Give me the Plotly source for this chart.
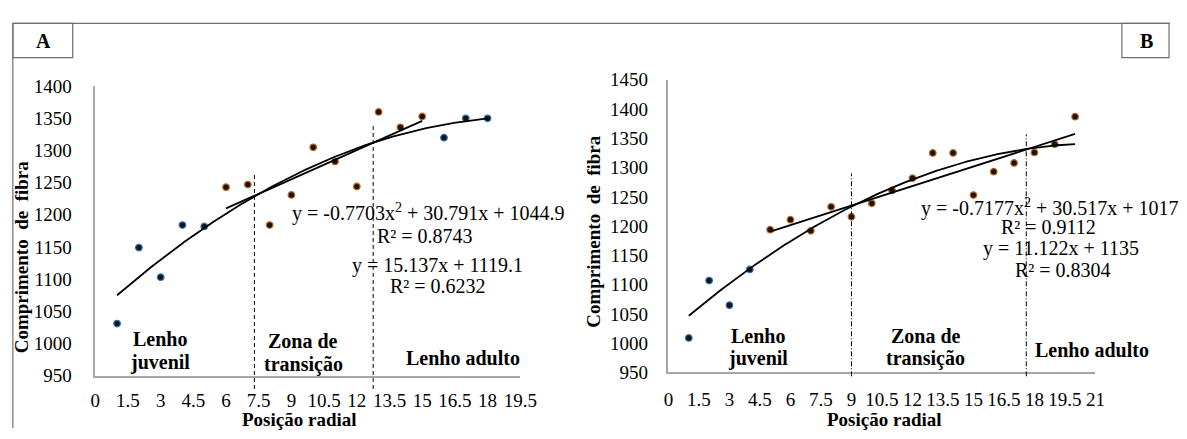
import numpy as np
import plotly.graph_objects as go

W, H = 1187, 439

# ---------------- data ----------------
posicao_a = [1, 2, 3, 4, 5, 6, 7, 8, 9, 10, 11, 12, 13, 14, 15, 16, 17, 18]
comprimento_a = [1031, 1149, 1103, 1184, 1182, 1243, 1247, 1184, 1231, 1305,
                 1283, 1244, 1360, 1336, 1353, 1320, 1350, 1350]
zona_a = ["j", "j", "j", "j", "j", "t", "t", "t", "t", "t",
          "t", "t", "t", "t", "t", "a", "a", "a"]

posicao_b = [1, 2, 3, 4, 5, 6, 7, 8, 9, 10, 11, 12, 13, 14, 15, 16, 17, 18, 19, 20]
comprimento_b = [1009, 1107, 1065, 1126, 1194, 1211, 1192, 1233, 1216, 1239,
                 1261, 1282, 1325, 1325, 1253, 1293, 1308, 1326, 1340, 1387]
zona_b = ["j", "j", "j", "j", "t", "t", "t", "t", "t", "t",
          "t", "t", "t", "t", "t", "t", "t", "t", "t", "t"]

# trendline coefficients (as printed on the chart)
poli_a = [-0.7703, 30.791, 1044.9]
lin_a = [15.137, 1119.1]
poli_b = [-0.7177, 30.517, 1017.0]
lin_b = [11.122, 1135.0]
faixa_poli_a = [1, 18]
faixa_lin_a = [6, 15]
faixa_poli_b = [1, 20]
faixa_lin_b = [5, 20]

# zone limits (x) and the height the marker line reaches (y)
limites_a = [7.3, 12.75]
topo_limites_a = [1265, 1338]
limites_b = [9.0, 17.6]
topo_limites_b = [1290, 1357]

ticks_x_a = [0, 1.5, 3, 4.5, 6, 7.5, 9, 10.5, 12, 13.5, 15, 16.5, 18, 19.5]
ticks_x_b = [0, 1.5, 3, 4.5, 6, 7.5, 9, 10.5, 12, 13.5, 15, 16.5, 18, 19.5, 21]
ticks_y_a = [950, 1000, 1050, 1100, 1150, 1200, 1250, 1300, 1350, 1400]
ticks_y_b = [950, 1000, 1050, 1100, 1150, 1200, 1250, 1300, 1350, 1400, 1450]

# ---------------- style ----------------
FONT = "Liberation Serif"
EDGE = {"j": "#2e6fb5", "t": "#c0631c", "a": "#2e6fb5"}
AXCOL = "#a6a6a6"
FRAME = "#6f6f6f"


def px(x):
    return x / W


def py(y):
    return 1 - y / H


fig = go.Figure()


def add_panel(xs, ys, zones, poli, lin, fp, fl, xa, ya):
    fig.add_trace(go.Scatter(
        x=xs, y=ys, mode="markers", xaxis=xa, yaxis=ya, showlegend=False,
        marker=dict(size=6.5, color="#151515",
                    line=dict(width=1.3, color=[EDGE[z] for z in zones]))))
    xp = np.linspace(fp[0], fp[1], 200)
    fig.add_trace(go.Scatter(
        x=xp, y=np.polyval(poli, xp), mode="lines", xaxis=xa, yaxis=ya,
        showlegend=False, line=dict(color="black", width=1.8)))
    xl = np.array(fl, dtype=float)
    fig.add_trace(go.Scatter(
        x=xl, y=np.polyval(lin, xl), mode="lines", xaxis=xa, yaxis=ya,
        showlegend=False, line=dict(color="black", width=1.8)))


add_panel(posicao_a, comprimento_a, zona_a, poli_a, lin_a,
          faixa_poli_a, faixa_lin_a, "x", "y")
add_panel(posicao_b, comprimento_b, zona_b, poli_b, lin_b,
          faixa_poli_b, faixa_lin_b, "x2", "y2")

ax_common = dict(showline=True, linecolor=AXCOL, linewidth=1.5, showgrid=False,
                 zeroline=False, ticks="",
                 tickfont=dict(family=FONT, size=19, color="black"))

fig.update_layout(
    width=W, height=H, margin=dict(l=0, r=0, t=0, b=0),
    paper_bgcolor="white", plot_bgcolor="white",
    font=dict(family=FONT, color="black"),
    xaxis=dict(domain=[px(92), px(525)], range=[0, 19.5], anchor="y",
               tickvals=ticks_x_a, ticktext=[f"{v:g}" for v in ticks_x_a],
               ticklabelstandoff=7, **ax_common),
    yaxis=dict(domain=[py(384), py(80)], range=[950, 1400], anchor="x",
               tickvals=ticks_y_a, ticktext=[str(v) for v in ticks_y_a],
               ticklabelstandoff=18, **ax_common),
    xaxis2=dict(domain=[px(676), px(1111)], range=[0, 21], anchor="y2",
                tickvals=ticks_x_b, ticktext=[f"{v:g}" for v in ticks_x_b],
                ticklabelstandoff=9, **ax_common),
    yaxis2=dict(domain=[py(380.7), py(73.3)], range=[950, 1450], anchor="x2",
                tickvals=ticks_y_b, ticktext=[str(v) for v in ticks_y_b],
                ticklabelstandoff=15, **ax_common),
)

shapes = []
# outer frame and panel labels
shapes.append(dict(type="line", xref="paper", yref="paper", x0=px(8), x1=px(1187),
                   y0=py(14), y1=py(14), line=dict(color=FRAME, width=1.2)))
shapes.append(dict(type="line", xref="paper", yref="paper", x0=px(8), x1=px(8),
                   y0=py(14), y1=py(439), line=dict(color=FRAME, width=1.2)))
shapes.append(dict(type="rect", xref="paper", yref="paper", x0=px(8), x1=px(69),
                   y0=py(50), y1=py(14), line=dict(color=FRAME, width=1.2)))
shapes.append(dict(type="rect", xref="paper", yref="paper", x0=px(1138), x1=px(1186),
                   y0=py(50), y1=py(14), line=dict(color=FRAME, width=1.2)))

# zone limit lines
for xv, top in zip(limites_a, topo_limites_a):
    shapes.append(dict(type="line", xref="x", yref="y domain", x0=xv, x1=xv,
                       y0=-14 / 304, y1=(top - 950) / 450,
                       line=dict(color="black", width=1, dash="4px,3px")))
for xv, top in zip(limites_b, topo_limites_b):
    shapes.append(dict(type="line", xref="x2", yref="y2 domain", x0=xv, x1=xv,
                       y0=-4 / 307.4, y1=(top - 950) / 500,
                       line=dict(color="black", width=1, dash="5px,2px,1px,2px")))
fig.update_layout(shapes=shapes)

ann = []


def txt(text, x, y, size=20, bold=False, xanchor="center", angle=0):
    t = f"<b>{text}</b>" if bold else text
    ann.append(dict(text=t, x=px(x), y=py(y), xref="paper", yref="paper",
                    xanchor=xanchor, yanchor="middle", showarrow=False,
                    textangle=angle, font=dict(family=FONT, size=size, color="black")))


# panel letters
txt("A", 39, 33, size=20, bold=True)
txt("B", 1163, 33, size=20, bold=True)

# axis titles
txt("Comprimento  de  fibra", 17, 259, size=19, bold=True, angle=-90)
txt("Posição radial", 300, 430, size=19, bold=True)
txt("Comprimento  de  fibra", 600, 232, size=19, bold=True, angle=-90)
txt("Posição radial", 896, 430, size=19, bold=True)

# zone labels A
txt("Lenho", 158, 346, bold=True)
txt("juvenil", 158, 370, bold=True)
txt("Zona de", 304, 348, bold=True)
txt("transição", 304, 372, bold=True)
txt("Lenho adulto", 467, 365, bold=True)
# zone labels B
txt("Lenho", 767, 342, bold=True)
txt("juvenil", 767, 366, bold=True)
txt("Zona de", 938, 342, bold=True)
txt("transição", 938, 366, bold=True)
txt("Lenho adulto", 1108, 357, bold=True)

# equations A
txt("y = -0.7703x<sup>2</sup> + 30.791x + 1044.9", 290, 213, xanchor="left")
txt("R² = 0.8743", 377, 237, xanchor="left")
txt("y = 15.137x + 1119.1", 352, 268, xanchor="left")
txt("R² = 0.6232", 390, 290, xanchor="left")
# equations B
txt("y = -0.7177x<sup>2</sup> + 30.517x + 1017", 931, 207, xanchor="left")
txt("R² = 0.9112", 1013, 228, xanchor="left")
txt("y = 11.122x + 1135", 994, 250, xanchor="left")
txt("R² = 0.8304", 1027, 273, xanchor="left")

fig.update_layout(annotations=ann)
fig.write_html("out.html", config={"displayModeBar": False},
               post_script="document.body.style.margin='0';")
